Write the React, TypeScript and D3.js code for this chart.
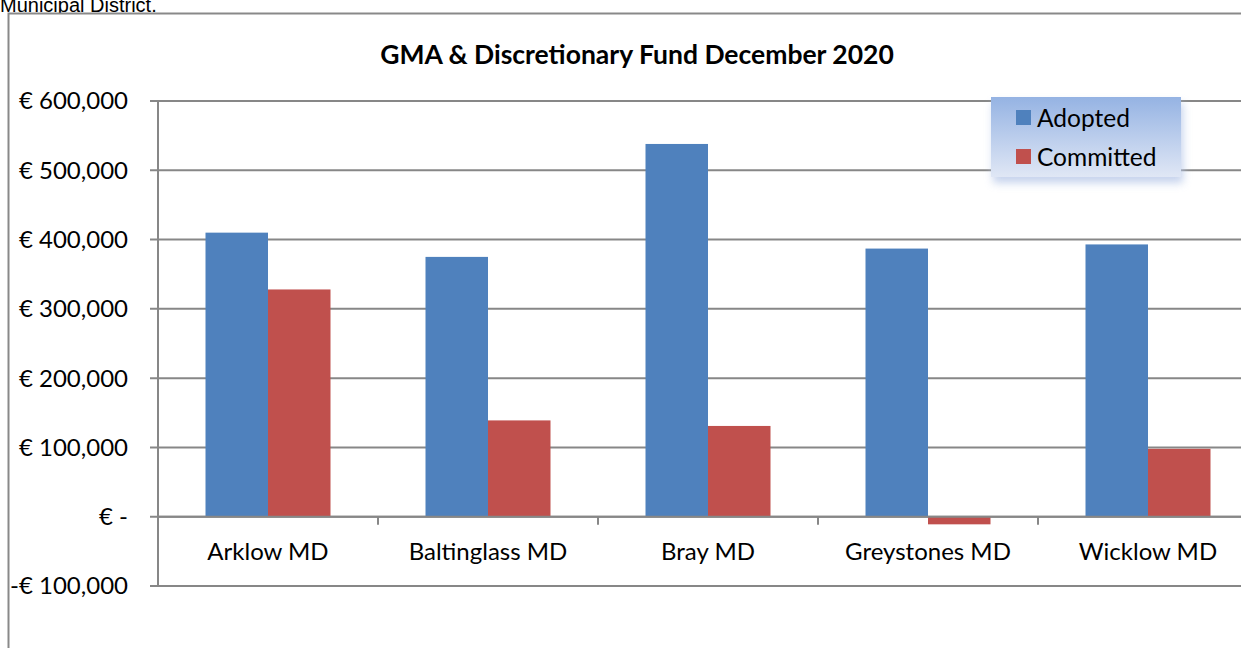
import React, { useEffect, useRef } from 'react';
import * as d3 from 'd3';

const districts = ['Arklow MD', 'Baltinglass MD', 'Bray MD', 'Greystones MD', 'Wicklow MD'];
const adopted = [410000, 375000, 538000, 387000, 393000];
const committed = [328000, 139000, 131000, -11000, 98000];
const seriesNames = ['Adopted', 'Committed'];
const seriesColors = ['#4f81bd', '#c0504d'];
const yTicks = [-100000, 0, 100000, 200000, 300000, 400000, 500000, 600000];

const fmt = (v: number) => {
  if (v === 0) return '€ -';
  const s = d3.format(',')(Math.abs(v));
  return (v < 0 ? '-€ ' : '€ ') + s;
};

export default function App() {
  const ref = useRef<SVGSVGElement>(null);

  useEffect(() => {
    const svg = d3.select(ref.current);
    svg.selectAll('*').remove();

    const font = 'Lato, "Open Sans", sans-serif';

    // plot area (runs past the right edge like the original)
    const plot = { left: 158, right: 1258, top: 101, bottom: 586 };

    const y = d3.scaleLinear()
      .domain([-100000, 600000])
      .range([plot.bottom, plot.top]);

    const x0 = d3.scaleBand()
      .domain(districts)
      .range([plot.left, plot.right]);

    // two bars of ~63px centred in each 220px category
    const x1 = d3.scaleBand()
      .domain(seriesNames)
      .range([47.5, x0.bandwidth() - 47.5]);

    const defs = svg.append('defs');
    const grad = defs.append('linearGradient')
      .attr('id', 'legGrad')
      .attr('x1', 0).attr('y1', 0).attr('x2', 0).attr('y2', 1);
    grad.append('stop').attr('offset', '0%').attr('stop-color', '#95b3e3');
    grad.append('stop').attr('offset', '100%').attr('stop-color', '#e0e7f5');
    const blur = defs.append('filter').attr('id', 'shadow')
      .attr('x', '-20%').attr('y', '-20%').attr('width', '140%').attr('height', '160%');
    blur.append('feGaussianBlur').attr('stdDeviation', 4);

    // text cut at the top of the page
    svg.append('text')
      .attr('x', 0)
      .attr('y', 12)
      .attr('font-family', '"Liberation Sans", Arial, sans-serif')
      .attr('font-size', 20)
      .attr('fill', '#000')
      .text('Municipal District.');

    // chart frame
    svg.append('rect')
      .attr('x', 8.5)
      .attr('y', 13.5)
      .attr('width', 1300)
      .attr('height', 700)
      .attr('fill', '#fff')
      .attr('stroke', '#898989')
      .attr('stroke-width', 2);

    // title
    svg.append('text')
      .attr('x', 637)
      .attr('y', 64)
      .attr('text-anchor', 'middle')
      .attr('font-family', font)
      .attr('font-weight', 'bold')
      .attr('font-size', 26.5)
      .text('GMA & Discretionary Fund December 2020');

    // gridlines
    svg.append('g')
      .selectAll('line')
      .data(yTicks)
      .enter()
      .append('line')
      .attr('x1', plot.left - 8)
      .attr('x2', plot.right)
      .attr('y1', d => y(d))
      .attr('y2', d => y(d))
      .attr('stroke', '#878787')
      .attr('stroke-width', 2);

    // y labels
    svg.append('g')
      .selectAll('text')
      .data(yTicks)
      .enter()
      .append('text')
      .attr('x', 128)
      .attr('y', d => y(d))
      .attr('dy', '0.35em')
      .attr('text-anchor', 'end')
      .attr('font-family', font)
      .attr('font-size', 24)
      .text(d => fmt(d));

    // bars
    const groups = svg.append('g')
      .selectAll('g')
      .data(districts)
      .enter()
      .append('g')
      .attr('transform', d => 'translate(' + x0(d) + ',0)');

    groups.selectAll('rect')
      .data((d, i) => [adopted[i], committed[i]].map((v, j) => ({ key: seriesNames[j], v, c: seriesColors[j] })))
      .enter()
      .append('rect')
      .attr('x', d => x1(d.key)!)
      .attr('width', x1.bandwidth())
      .attr('y', d => Math.min(y(d.v), y(0)))
      .attr('height', d => Math.abs(y(d.v) - y(0)))
      .attr('fill', d => d.c);

    // y axis line
    svg.append('line')
      .attr('x1', plot.left).attr('x2', plot.left)
      .attr('y1', plot.top).attr('y2', plot.bottom)
      .attr('stroke', '#878787')
      .attr('stroke-width', 2);

    // x axis at zero
    svg.append('line')
      .attr('x1', plot.left).attr('x2', plot.right)
      .attr('y1', y(0)).attr('y2', y(0))
      .attr('stroke', '#878787')
      .attr('stroke-width', 2);

    svg.append('g')
      .selectAll('line')
      .data(districts.slice(1))
      .enter()
      .append('line')
      .attr('x1', d => x0(d)!)
      .attr('x2', d => x0(d)!)
      .attr('y1', y(0))
      .attr('y2', y(0) + 8)
      .attr('stroke', '#878787')
      .attr('stroke-width', 2);

    svg.append('g')
      .selectAll('text')
      .data(districts)
      .enter()
      .append('text')
      .attr('x', d => x0(d)! + x0.bandwidth() / 2)
      .attr('y', y(0) + 43)
      .attr('text-anchor', 'middle')
      .attr('font-family', font)
      .attr('font-size', 24)
      .text(d => d);

    // legend
    const leg = svg.append('g').attr('transform', 'translate(991,97)');
    leg.append('rect')
      .attr('x', 2).attr('y', 6)
      .attr('width', 190).attr('height', 80)
      .attr('fill', '#b8c8e8')
      .attr('opacity', 0.8)
      .attr('filter', 'url(#shadow)');
    leg.append('rect')
      .attr('width', 190).attr('height', 80)
      .attr('fill', 'url(#legGrad)');
    const items = leg.selectAll('g.item')
      .data(seriesNames)
      .enter()
      .append('g')
      .attr('class', 'item')
      .attr('transform', (d, i) => 'translate(25,' + (13 + i * 39) + ')');
    items.append('rect')
      .attr('width', 15).attr('height', 15)
      .attr('fill', (d, i) => seriesColors[i]);
    items.append('text')
      .attr('x', 21)
      .attr('y', 8)
      .attr('dy', '0.35em')
      .attr('font-family', font)
      .attr('font-size', 24.5)
      .text(d => d);
  }, []);

  return (
    <div style={{ position: 'absolute', left: 0, top: 0 }}>
      <svg ref={ref} width={1241} height={648} style={{ display: 'block' }}></svg>
    </div>
  );
}
